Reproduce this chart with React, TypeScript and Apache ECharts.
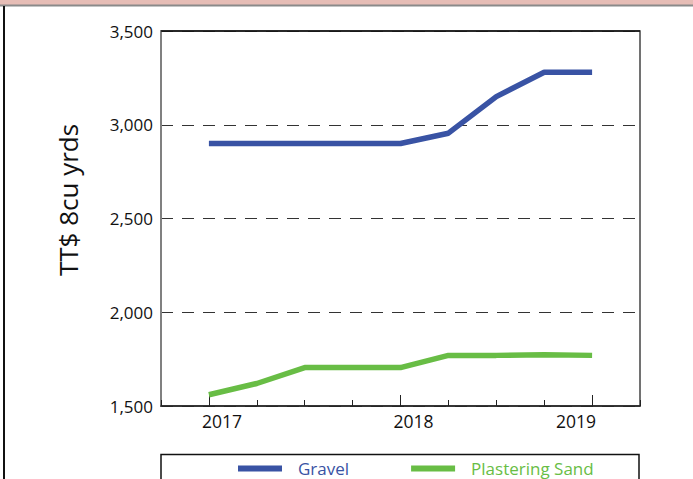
import React, { useEffect, useRef } from "react";
import * as echarts from "echarts";

// Quarter index: 0 = 2017, 4 = 2018, 8 = 2019
const quarters = [0, 1, 2, 3, 4, 5, 6, 7, 8];
const gravel = [2900, 2900, 2900, 2900, 2900, 2955, 3150, 3280, 3280];
const plasteringSand = [1560, 1620, 1705, 1705, 1705, 1770, 1770, 1773, 1770];
const yearLabels = ["2017", "2018", "2019"];
const yearPositions = [0, 4, 8];
const yTicks = [1500, 2000, 2500, 3000, 3500];
const seriesNames = ["Gravel", "Plastering Sand"];
const yAxisTitle = "TT$ 8cu yrds";

const FONT = "Open Sans";
const BLUE = "#3953a4";
const GREEN = "#68bd45";

export default function App() {
  const ref = useRef<HTMLDivElement>(null);

  useEffect(() => {
    document.body.style.margin = "0";
    if (!ref.current) return;
    const chart = echarts.init(ref.current, undefined, { renderer: "svg" });
    const option: any = {
      animation: false,
      backgroundColor: "#ffffff",
      grid: {
        left: 161,
        right: 53,
        top: 31,
        bottom: 73,
        show: true,
        borderColor: "#444",
        borderWidth: 1.5,
        backgroundColor: "transparent",
      },
      xAxis: [
        {
          type: "value",
          min: -1,
          max: 9,
          interval: 1,
          axisLine: { show: true, onZero: false, lineStyle: { color: "#222", width: 1.5 } },
          axisTick: { show: true, inside: true, length: 6, lineStyle: { color: "#222", width: 1 } },
          splitLine: { show: false },
          axisLabel: {
            show: true,
            customValues: yearPositions,
            margin: 6,
            formatter: (v: number) => {
              const i = yearPositions.indexOf(v);
              if (i < 0) return "";
              return i === yearPositions.length - 1 ? `{l|${yearLabels[i]}}` : `{r|${yearLabels[i]}}`;
            },
            rich: {
              r: { fontFamily: FONT, fontSize: 17.5, color: "#111", padding: [0, 0, 0, 26] },
              l: { fontFamily: FONT, fontSize: 17.5, color: "#111", padding: [0, 32, 0, 0] },
            },
          },
        },
        {
          type: "value",
          min: -1,
          max: 9,
          interval: 1,
          position: "bottom",
          axisLine: { show: false, onZero: false },
          axisTick: {
            show: true,
            inside: true,
            length: 11,
            customValues: yearPositions,
            lineStyle: { color: "#222", width: 1 },
          },
          axisLabel: { show: false },
          splitLine: { show: false },
        },
      ],
      yAxis: {
        type: "value",
        min: yTicks[0],
        max: yTicks[yTicks.length - 1],
        interval: 500,
        axisLine: { show: true, onZero: false, lineStyle: { color: "#808080", width: 2 } },
        axisTick: { show: false },
        axisLabel: {
          margin: 8,
          fontFamily: FONT,
          fontSize: 17,
          color: "#111",
          formatter: (v: number) => v.toLocaleString("en-US"),
        },
        splitLine: {
          show: true,
          lineStyle: { color: "#333", width: 1, type: [12, 9] },
        },
      },
      legend: {
        left: 238,
        top: 460,
        itemWidth: 44,
        itemHeight: 6,
        itemGap: 62,
        icon: "rect",
        padding: 0,
        textStyle: { fontFamily: FONT, fontSize: 17, padding: [0, 0, 0, 11] },
        data: [
          { name: seriesNames[0], textStyle: { color: BLUE } },
          { name: seriesNames[1], textStyle: { color: GREEN } },
        ],
      },
      graphic: [
        { type: "rect", shape: { x: 0, y: 0, width: 693, height: 5 }, style: { fill: "#e6bdb6" } },
        { type: "line", shape: { x1: 0, y1: 5.5, x2: 693, y2: 5.5 }, style: { stroke: "#8a8a8a", lineWidth: 2 } },
        { type: "line", shape: { x1: 4, y1: 6, x2: 4, y2: 479 }, style: { stroke: "#111", lineWidth: 2 } },
        {
          type: "line",
          shape: { x1: 161, y1: 31, x2: 640, y2: 31 },
          style: { stroke: "#111", lineWidth: 1.5 },
          z: 100,
        },
        {
          type: "rect",
          shape: { x: 161, y: 454.5, width: 478, height: 40 },
          style: { fill: "none", stroke: "#111", lineWidth: 1.5 },
        },
        {
          type: "text",
          x: 68,
          y: 200,
          rotation: Math.PI / 2,
          style: {
            text: yAxisTitle,
            fontFamily: FONT,
            fontSize: 26,
            fill: "#111",
            align: "center",
            verticalAlign: "middle",
          },
        },
      ],
      series: [
        {
          name: seriesNames[0],
          type: "line",
          xAxisIndex: 0,
          data: quarters.map((q, i) => [q, gravel[i]]),
          showSymbol: false,
          symbol: "none",
          lineStyle: { color: BLUE, width: 5.5 },
          itemStyle: { color: BLUE },
        },
        {
          name: seriesNames[1],
          type: "line",
          xAxisIndex: 0,
          data: quarters.map((q, i) => [q, plasteringSand[i]]),
          showSymbol: false,
          symbol: "none",
          lineStyle: { color: GREEN, width: 5.5 },
          itemStyle: { color: GREEN },
        },
      ],
    };
    chart.setOption(option);
    return () => chart.dispose();
  }, []);

  return (
    <div
      ref={ref}
      style={{ position: "fixed", left: 0, top: 0, width: 693, height: 479, background: "#fff" }}
    />
  );
}
